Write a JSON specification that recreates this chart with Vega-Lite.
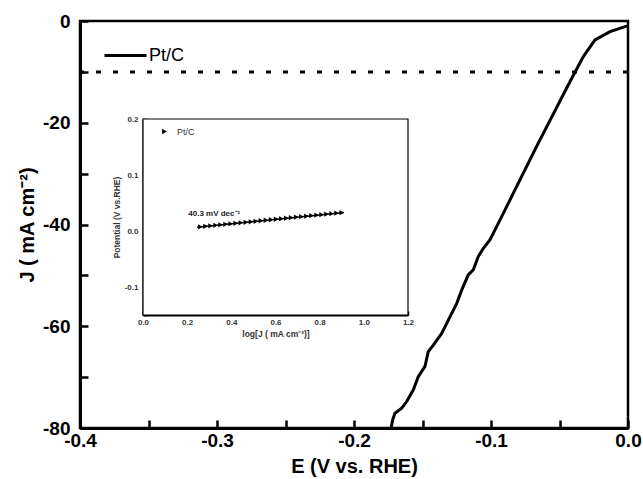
{
  "$schema": "https://vega.github.io/schema/vega-lite/v6.json",
  "width": 548,
  "height": 407,
  "autosize": {"type": "none"},
  "padding": {"left": 80, "top": 21, "right": 15, "bottom": 51},
  "config": {
    "view": {"stroke": "black", "strokeWidth": 2.5},
    "font": "Liberation Sans",
    "axis": {"grid": false},
    "legend": {"padding": 0, "offset": 0}
  },
  "datasets": {
    "lsv": [
      {"E": -0.1735, "J": -81},
      {"E": -0.1732, "J": -80.4},
      {"E": -0.1718, "J": -78.4},
      {"E": -0.1701, "J": -77.1},
      {"E": -0.1652, "J": -76.1},
      {"E": -0.1615, "J": -74.8},
      {"E": -0.1567, "J": -72.5},
      {"E": -0.1531, "J": -69.9},
      {"E": -0.1482, "J": -67.9},
      {"E": -0.1458, "J": -65.0},
      {"E": -0.1421, "J": -63.7},
      {"E": -0.136, "J": -61.4},
      {"E": -0.1299, "J": -58.1},
      {"E": -0.125, "J": -55.5},
      {"E": -0.1214, "J": -52.9},
      {"E": -0.1166, "J": -49.9},
      {"E": -0.1129, "J": -48.9},
      {"E": -0.1093, "J": -46.3},
      {"E": -0.1056, "J": -44.7},
      {"E": -0.1007, "J": -43.0},
      {"E": -0.0934, "J": -39.1},
      {"E": -0.0666, "J": -24.6},
      {"E": -0.0423, "J": -11.9},
      {"E": -0.0326, "J": -7.0},
      {"E": -0.0241, "J": -3.7},
      {"E": -0.0131, "J": -2.1},
      {"E": -0.0022, "J": -1.1},
      {"E": 0.0, "J": -1.0}
    ],
    "tafel": [
      {"logJ": 0.26, "pot": 0.0075},
      {"logJ": 0.283, "pot": 0.0083},
      {"logJ": 0.306, "pot": 0.0092},
      {"logJ": 0.329, "pot": 0.0101},
      {"logJ": 0.351, "pot": 0.011},
      {"logJ": 0.374, "pot": 0.0119},
      {"logJ": 0.397, "pot": 0.0128},
      {"logJ": 0.42, "pot": 0.0138},
      {"logJ": 0.443, "pot": 0.0146},
      {"logJ": 0.466, "pot": 0.0155},
      {"logJ": 0.489, "pot": 0.0164},
      {"logJ": 0.511, "pot": 0.0173},
      {"logJ": 0.534, "pot": 0.0183},
      {"logJ": 0.557, "pot": 0.0192},
      {"logJ": 0.58, "pot": 0.0201},
      {"logJ": 0.603, "pot": 0.021},
      {"logJ": 0.626, "pot": 0.0219},
      {"logJ": 0.649, "pot": 0.0228},
      {"logJ": 0.671, "pot": 0.0237},
      {"logJ": 0.694, "pot": 0.0246},
      {"logJ": 0.717, "pot": 0.0255},
      {"logJ": 0.74, "pot": 0.0264},
      {"logJ": 0.763, "pot": 0.0273},
      {"logJ": 0.786, "pot": 0.0283},
      {"logJ": 0.809, "pot": 0.0292},
      {"logJ": 0.831, "pot": 0.03},
      {"logJ": 0.854, "pot": 0.031},
      {"logJ": 0.877, "pot": 0.0319},
      {"logJ": 0.9, "pot": 0.0327}
    ]
  },
  "layer": [
    {
      "layer": [
        {
          "data": {"name": "lsv"},
          "mark": {"type": "line", "strokeWidth": 3, "color": "black", "clip": true},
          "encoding": {
            "x": {
              "field": "E", "type": "quantitative",
              "scale": {"domain": [-0.4, 0], "nice": false, "zero": false},
              "axis": {
                "orient": "bottom",
                "values": [-0.4, -0.35, -0.3, -0.25, -0.2, -0.15, -0.1, -0.05, 0],
                "labelExpr": "round(datum.value*100)%10==0 ? replace(format(datum.value,'.1f'),'\u2212','-') : ''",
                "labelFlush": false,
                "tickSize": -8, "tickWidth": 2.5, "tickColor": "black",
                "domainColor": "black", "domainWidth": 3,
                "labelFontSize": 19, "labelFontWeight": "bold", "labelColor": "black",
                "labelPadding": 11,
                "title": "E (V vs. RHE)", "titleFontSize": 20, "titleFontWeight": "bold",
                "titleColor": "black", "titlePadding": 6
              }
            },
            "y": {
              "field": "J", "type": "quantitative",
              "scale": {"domain": [-80, 0], "nice": false, "zero": false},
              "axis": {
                "orient": "left",
                "values": [-80, -70, -60, -50, -40, -30, -20, -10, 0],
                "labelExpr": "datum.value%20==0 ? replace(format(datum.value,'d'),'\u2212','-') : ''",
                "labelFlush": false,
                "tickSize": -8, "tickWidth": 2.5, "tickColor": "black",
                "domainColor": "black", "domainWidth": 3,
                "labelFontSize": 19, "labelFontWeight": "bold", "labelColor": "black",
                "labelPadding": 18,
                "title": "J ( mA cm\u207B\u00B2)", "titleFontSize": 20, "titleFontWeight": "bold",
                "titleColor": "black", "titlePadding": 5
              }
            },
            "color": {
              "datum": "Pt/C",
              "scale": {"range": ["black"]},
              "legend": {
                "orient": "none", "legendX": 23, "legendY": 12, "title": null,
                "symbolType": "stroke", "symbolSize": 1764, "symbolStrokeWidth": 3,
                "symbolStrokeColor": "black",
                "labelFontSize": 18, "labelColor": "black", "labelOffset": 1
              }
            }
          }
        },
        {
          "data": {"values": [{}]},
          "mark": {"type": "rule", "strokeDash": [5, 12], "strokeWidth": 3, "color": "black"},
          "encoding": {"y": {"datum": -10, "type": "quantitative"}}
        }
      ]
    },
    {
      "layer": [
        {
          "data": {"values": [{}]},
          "mark": {"type": "rect", "fill": "white", "stroke": "black", "strokeWidth": 1.2},
          "encoding": {
            "x": {
              "datum": 0, "type": "quantitative",
              "scale": {"domain": [0, 1.2], "range": [63, 328], "nice": false, "zero": false},
              "axis": {
                "orient": "bottom", "offset": -113,
                "values": [0, 0.1, 0.2, 0.3, 0.4, 0.5, 0.6, 0.7, 0.8, 0.9, 1.0, 1.1, 1.2],
                "labelExpr": "round(datum.value*10)%2==0 ? format(datum.value,'.1f') : ''",
                "labelFlush": false,
                "tickSize": -4, "tickWidth": 1.5, "tickColor": "black",
                "domainColor": "black", "domainWidth": 2,
                "labelFontSize": 8, "labelFontWeight": "bold", "labelColor": "#333",
                "labelPadding": 7,
                "title": "log[J ( mA cm\u207B\u00B2)]", "titleFontSize": 8.5, "titleFontWeight": "bold",
                "titleColor": "#333", "titlePadding": 3
              }
            },
            "x2": {"datum": 1.2},
            "y": {
              "datum": -0.15, "type": "quantitative",
              "scale": {"domain": [-0.15, 0.2], "range": [294, 98], "nice": false, "zero": false},
              "axis": {
                "orient": "left", "offset": -63,
                "values": [-0.15, -0.1, -0.05, 0, 0.05, 0.1, 0.15, 0.2],
                "labelExpr": "round(datum.value*100)%10==0 ? replace(format(datum.value,'.1f'),'\u2212','-') : ''",
                "labelFlush": false,
                "tickSize": -4, "tickWidth": 1.5, "tickColor": "black",
                "domainColor": "black", "domainWidth": 2,
                "labelFontSize": 8, "labelFontWeight": "bold", "labelColor": "#333",
                "labelPadding": 9,
                "title": "Potential (V vs.RHE)", "titleFontSize": 8.5, "titleFontWeight": "bold",
                "titleColor": "#333", "titlePadding": 3
              }
            },
            "y2": {"datum": 0.2}
          }
        },
        {
          "data": {"values": [{}]},
          "mark": {"type": "rule", "strokeWidth": 1.5, "color": "black"},
          "encoding": {
            "x": {"datum": 0.245, "type": "quantitative"},
            "x2": {"datum": 0.91},
            "y": {"datum": 0.0069, "type": "quantitative"},
            "y2": {"datum": 0.0331}
          }
        },
        {
          "data": {"name": "tafel"},
          "mark": {"type": "point", "filled": true, "size": 28, "color": "black", "opacity": 1},
          "encoding": {
            "x": {"field": "logJ", "type": "quantitative"},
            "y": {"field": "pot", "type": "quantitative"},
            "shape": {
              "datum": "Pt/C",
              "scale": {"range": ["triangle-right"]},
              "legend": {
                "orient": "none", "legendX": 80, "legendY": 106, "title": null,
                "symbolFillColor": "black", "symbolStrokeColor": "black", "symbolSize": 30,
                "labelFontSize": 9, "labelColor": "#333", "labelOffset": 8
              }
            }
          }
        },
        {
          "data": {"values": [{}]},
          "mark": {"type": "text", "fontSize": 8, "fontWeight": "bold", "color": "#222", "align": "left", "baseline": "bottom", "font": "Liberation Sans"},
          "encoding": {
            "x": {"datum": 0.205, "type": "quantitative"},
            "y": {"datum": 0.024, "type": "quantitative"},
            "text": {"datum": "40.3 mV dec\u207B\u00B9"}
          }
        }
      ]
    }
  ],
  "resolve": {
    "scale": {"x": "independent", "y": "independent", "color": "independent", "shape": "independent"},
    "axis": {"x": "independent", "y": "independent"},
    "legend": {"color": "independent", "shape": "independent"}
  }
}
